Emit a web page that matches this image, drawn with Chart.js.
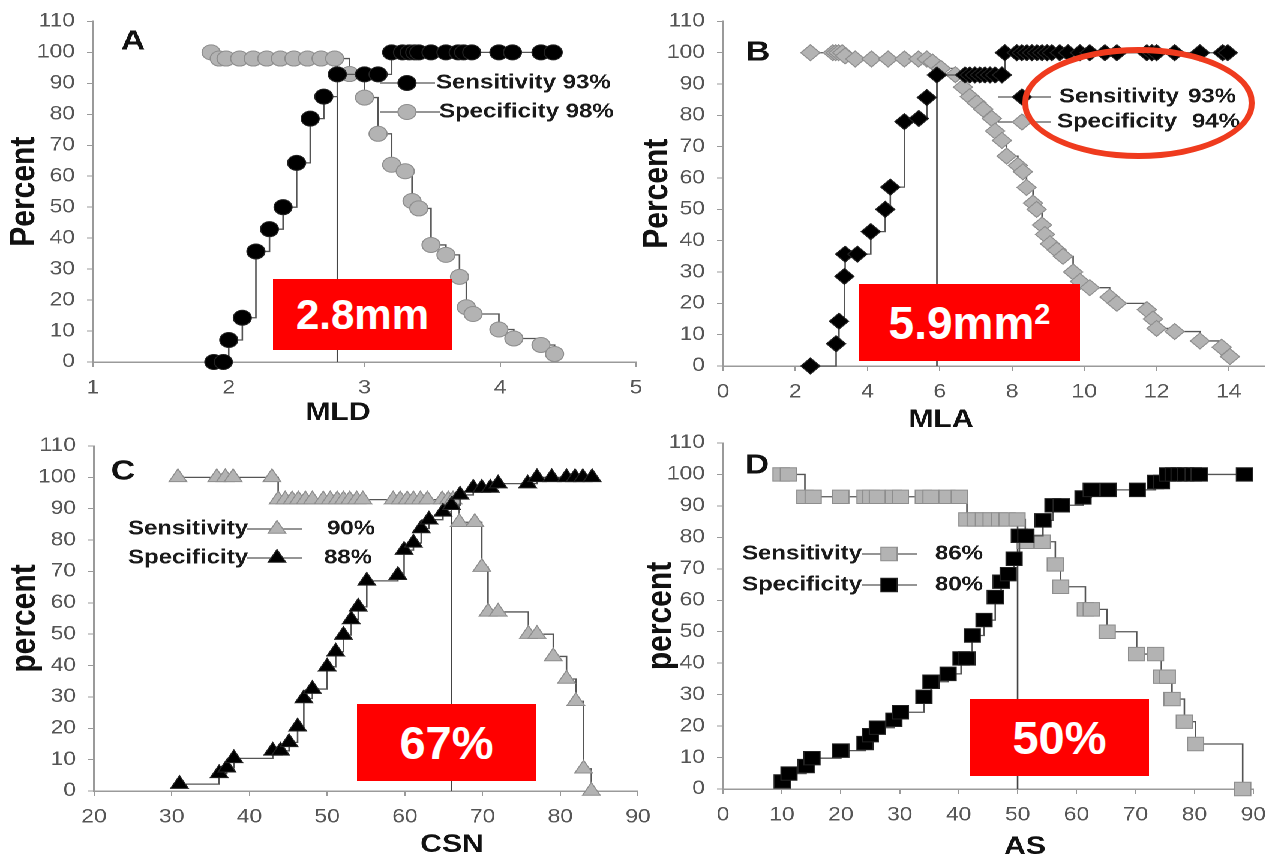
<!DOCTYPE html>
<html>
<head>
<meta charset="utf-8">
<script src="https://cdn.jsdelivr.net/npm/chart.js@4.4.1/dist/chart.umd.min.js"></script>
<style>
  body { margin: 0; background: #fff; width: 1278px; height: 862px; overflow: hidden; position: relative;
         font-family: "Liberation Sans", Arial, sans-serif; }
  /* the source figure is stretched sideways, so the charts are drawn narrower and scaled */
  #stage { position: absolute; left: 0; top: 0; width: 1065px; height: 862px; transform: scaleX(1.2); transform-origin: 0 0; }
  .pane { position: absolute; left: 0; top: 0; width: 1065px; height: 862px; }
  .cut { position: absolute; background: #f00; color: #fff; font-weight: bold;
         display: flex; align-items: center; justify-content: center; }
  #ring { position: absolute; left: 1022px; top: 47px; width: 221px; height: 100px;
          border: 6px solid #ef3b1e; border-radius: 50%; }
</style>
</head>
<body>
<div id="stage">
  <div class="pane"><canvas id="mld"></canvas></div>
  <div class="pane"><canvas id="mla"></canvas></div>
  <div class="pane"><canvas id="csn"></canvas></div>
  <div class="pane"><canvas id="as"></canvas></div>
</div>
<div class="cut" style="left:273px;top:279px;width:179px;height:71px;font-size:42px">2.8mm</div>
<div class="cut" style="left:859px;top:284px;width:221px;height:77px;font-size:46px"><span>5.9mm<span style="font-size:29px;position:relative;top:-15px">2</span></span></div>
<div class="cut" style="left:357px;top:704px;width:179px;height:77px;font-size:47px">67%</div>
<div class="cut" style="left:970px;top:699px;width:179px;height:77px;font-size:47px">50%</div>
<div id="ring"></div>

<script>
const SX = 1.2;
const W0 = 1065, H0 = 862;
const sx = v => v / SX;
const FONT = '"Liberation Sans", Arial, sans-serif';

// A: MLD
const mldSensX = [1.89, 1.96, 2.0, 2.1, 2.2, 2.3, 2.4, 2.5, 2.6, 2.7, 2.8, 3.0, 3.1, 3.2, 3.28, 3.33, 3.37, 3.4, 3.49, 3.6, 3.69, 3.73, 3.79, 3.99, 4.09, 4.3, 4.39];
const mldSensY = [0, 0, 7.1, 14.3, 35.7, 42.9, 50, 64.3, 78.6, 85.7, 92.9, 92.9, 92.9, 100, 100, 100, 100, 100, 100, 100, 100, 100, 100, 100, 100, 100, 100];
const mldSpecX = [1.87, 1.93, 1.98, 2.08, 2.18, 2.28, 2.38, 2.48, 2.58, 2.68, 2.78, 2.89, 3.0, 3.1, 3.2, 3.3, 3.35, 3.4, 3.49, 3.6, 3.7, 3.75, 3.8, 3.99, 4.1, 4.3, 4.4];
const mldSpecY = [100, 98, 98, 98, 98, 98, 98, 98, 98, 98, 98, 93, 85.4, 73.7, 63.7, 61.6, 52, 49.6, 37.8, 34.6, 27.5, 17.7, 15.5, 10.5, 7.6, 5.5, 2.6];
const mldCut = [2.8, 98];

// B: MLA
const mlaSensX = [2.42, 3.13, 3.21, 3.36, 3.38, 3.72, 4.09, 4.49, 4.63, 5.02, 5.42, 5.64, 5.92,
  6.7, 6.83, 6.97, 7.11, 7.25, 7.39, 7.53, 7.72,
  7.8, 8.13, 8.27, 8.41, 8.55, 8.69, 8.83, 8.97, 9.1, 9.32, 9.55, 9.88, 10.15, 10.57, 10.9, 11.73, 11.87, 12.0, 12.5, 13.2, 13.83, 13.97];
const mlaSensY = [0, 7.1, 14.3, 28.6, 35.7, 35.7, 42.9, 50, 57.1, 78, 79, 85.7, 92.9,
  92.9, 92.9, 92.9, 92.9, 92.9, 92.9, 92.9, 92.9,
  100, 100, 100, 100, 100, 100, 100, 100, 100, 100, 100, 100, 100, 100, 100, 100, 100, 100, 100, 100, 100, 100];
const mlaSpecX = [2.42, 3.04, 3.12, 3.2, 3.3, 3.38, 3.66, 4.11, 4.57, 5.02, 5.41, 5.64, 5.8, 6.03, 6.43, 6.64, 6.83, 7.02, 7.2, 7.44,
  7.53, 7.72, 7.85, 8.16, 8.3, 8.4, 8.58, 8.68, 8.83, 8.91, 9.05, 9.24, 9.41, 9.69, 9.88, 10.15, 10.7, 10.9, 11.73, 11.9, 12.0, 12.5, 13.2, 13.8, 14.03];
const mlaSpecY = [100, 100, 100, 100, 100, 99, 98, 98, 98, 98, 98, 98, 97, 95, 93, 89, 86, 84, 82, 79,
  75, 72, 67, 64, 62, 57, 52, 50, 45, 42, 39, 37, 35, 30, 27, 25, 22, 20, 18, 15, 12, 11, 8, 6, 3];
const mlaCut = [5.92, 93];

// C: CSN
const csnSensX = [30.8, 35.8, 36.9, 37.9, 42.9, 43.7, 44.6, 45.5, 46.3, 47.2, 48.1, 49.5, 50.4, 51.3, 52.1, 52.9, 53.8, 54.6,
  58.5, 59.4, 60.3, 61.1, 62.0, 62.9, 64.8, 65.6, 66.2, 67.0, 69.0, 69.9, 70.7, 72.0, 75.9, 77.0, 79.1, 80.8, 82.0, 83.0, 84.0];
const csnSensY = [100, 100, 100, 100, 100, 92.9, 92.9, 92.9, 92.9, 92.9, 92.9, 92.9, 92.9, 92.9, 92.9, 92.9, 92.9, 92.9,
  92.9, 92.9, 92.9, 92.9, 92.9, 92.9, 92.9, 92.9, 92.9, 85.7, 85.7, 71.4, 57.1, 57.1, 50, 50, 42.9, 35.7, 28.6, 7.1, 0];
const csnSpecX = [31.0, 36.1, 37.1, 38.0, 43.0, 44.0, 45.1, 46.2, 47.0, 48.1, 50.0, 51.1, 52.1, 53.1, 54.0, 55.1, 59.1, 59.9,
  61.1, 62.1, 63.1, 64.9, 66.0, 67.1, 68.8, 69.9, 71.0, 72.0, 75.8, 77.0, 78.9, 80.8, 81.9, 82.9, 84.1];
const csnSpecY = [2.2, 5.6, 7.4, 10.4, 12.8, 12.8, 15.5, 20.5, 29.5, 32.5, 39.6, 44.4, 49.7, 54.7, 58.7, 67, 68.8, 76.8,
  79.1, 83.7, 86.5, 89, 91.1, 94.4, 96.6, 96.6, 96.6, 98, 98, 100, 100, 100, 100, 100, 100];
const csnCut = [66, 90];

// D: AS
const asSensX = [9.85, 11.1, 13.9, 15.3, 20.0, 24.1, 25.1, 26.2, 28.9, 30.1, 34.0, 35.3, 38.0, 40.1,
  41.4, 42.8, 44.2, 45.5, 46.9, 48.2, 49.9, 51.3, 54.2, 56.4, 57.3, 61.5, 62.5, 65.2, 70.2, 73.4, 74.4, 75.4, 76.2, 78.3, 80.2, 88.2];
const asSensY = [100, 100, 92.9, 92.9, 92.9, 92.9, 92.9, 92.9, 92.9, 92.9, 92.9, 92.9, 92.9, 92.9,
  85.7, 85.7, 85.7, 85.7, 85.7, 85.7, 85.7, 78.6, 78.6, 71.4, 64.3, 57.1, 57.1, 50, 42.9, 42.9, 35.7, 35.7, 28.6, 21.4, 14.3, 0];
const asSpecX = [10.05, 11.2, 14.1, 15.1, 20.0, 24.1, 25.0, 26.2, 29.0, 30.1, 34.1, 35.3, 38.2, 40.4, 41.4, 42.3, 44.3, 46.2, 47.2, 48.4,
  49.4, 50.3, 51.4, 54.3, 56.0, 57.4, 61.1, 62.5, 65.4, 70.3, 73.4, 74.4, 75.4, 76.4, 77.4, 78.5, 79.8, 80.8, 88.5];
const asSpecY = [2.4, 4.9, 7.3, 9.8, 12.2, 14.6, 17.1, 19.5, 22, 24.4, 29.3, 34.1, 36.6, 41.5, 41.5, 48.8, 53.7, 61, 65.9, 68.3,
  73.2, 80.5, 80.5, 85.4, 90.2, 90.2, 92.7, 95.1, 95.1, 95.1, 97.6, 97.6, 100, 100, 100, 100, 100, 100, 100];
const asCut = [50, 85.5];

const yTicks = { min: 0, max: 110, step: 10 };

const BLACK = { fill: '#000', stroke: '#222' };
const GRAY = { fill: '#b3b3b3', stroke: '#8e8e8e' };

// letters, axis titles and legends drawn on the canvas (stage coordinates)
const panelText = {
  id: 'panelText',
  afterDraw(chart, args, o) {
    const ctx = chart.ctx;
    ctx.save();
    ctx.textBaseline = 'middle';
    ctx.fillStyle = '#111';
    ctx.textAlign = 'center';
    ctx.font = 'bold 28px ' + FONT;
    ctx.fillText(o.letter[0], o.letter[1], o.letter[2]);
    ctx.font = 'bold 25px ' + FONT;
    ctx.fillText(o.xTitle[0], o.xTitle[1], o.xTitle[2]);
    o.rows.forEach(r => {
      const ds = chart.data.datasets[r.ds];
      ctx.strokeStyle = '#555';
      ctx.lineWidth = 1.3;
      ctx.beginPath();
      ctx.moveTo(r.x1, r.y);
      ctx.lineTo(r.x2, r.y);
      ctx.stroke();
      ctx.fillStyle = ds.pointBackgroundColor;
      ctx.strokeStyle = ds.pointBorderColor;
      ctx.lineWidth = 1;
      Chart.helpers.drawPoint(ctx, { pointStyle: ds.pointStyle, radius: ds.pointRadius, rotation: 0, borderWidth: 1 }, r.mx, r.y);
      ctx.fillStyle = '#1a1a1a';
      ctx.font = 'bold 20px ' + FONT;
      ctx.textAlign = 'left';
      ctx.fillText(r.label, r.tx, r.y);
      if (r.value) {
        ctx.textAlign = r.valAlign || 'left';
        ctx.fillText(r.value, r.vx, r.y);
      }
    });
    ctx.restore();
  }
};

function series(xs, ys, style, radius, col) {
  return {
    data: xs.map((x, i) => ({ x: x, y: ys[i] })),
    stepped: true,
    borderColor: '#555',
    borderWidth: 1.3,
    pointStyle: style,
    pointRadius: radius,
    pointBackgroundColor: col.fill,
    pointBorderColor: col.stroke,
    pointBorderWidth: 1,
    clip: false
  };
}

function cutLine(c) {
  return {
    data: [{ x: c[0], y: 0 }, { x: c[0], y: c[1] }],
    borderColor: '#444',
    borderWidth: 1.3,
    pointRadius: 0
  };
}

function panel(id, p) {
  const left = sx(p.area[0]), right = sx(p.area[1]), top = p.area[2], bottom = p.area[3];
  const padL = sx(p.yTitleX) - 20;
  const axisH = 40;
  new Chart(document.getElementById(id), {
    type: 'line',
    data: {
      datasets: [
        series(p.blackX, p.blackY, p.style, p.radius, BLACK),
        series(p.grayX, p.grayY, p.style, p.radius, GRAY),
        cutLine(p.cut)
      ]
    },
    plugins: [panelText],
    options: {
      responsive: true,
      maintainAspectRatio: false,
      devicePixelRatio: 2,
      animation: false,
      events: [],
      layout: { padding: { left: padL, right: W0 - right, top: top, bottom: H0 - bottom - axisH } },
      plugins: {
        legend: { display: false },
        tooltip: { enabled: false },
        panelText: p.text
      },
      scales: {
        x: {
          type: 'linear',
          min: p.xMin, max: p.xMax,
          ticks: { stepSize: p.xStep, includeBounds: false, autoSkip: false, maxRotation: 0,
                   color: '#555', padding: 10, font: { size: 19, family: FONT } },
          grid: { drawOnChartArea: false, tickLength: 5, color: '#9a9a9a' },
          border: { color: '#9a9a9a', width: 1.5 },
          afterFit: s => { s.height = axisH; }
        },
        y: {
          min: yTicks.min, max: yTicks.max,
          ticks: { stepSize: yTicks.step, color: '#555', padding: 10, font: { size: 19, family: FONT } },
          grid: { drawOnChartArea: false, tickLength: 5, color: '#9a9a9a' },
          border: { color: '#9a9a9a', width: 1.5 },
          title: { display: true, text: p.yTitle, color: '#111', padding: { top: 5, bottom: 0 },
                   font: { size: 30, weight: 'bold', family: FONT, lineHeight: 1 } },
          afterFit: s => { s.width = left - padL; }
        }
      }
    }
  });
}

function legendRows(rows) {
  return rows.map(r => ({
    ds: r[0], y: r[1], x1: sx(r[2]), x2: sx(r[3]), mx: sx(r[4]),
    label: r[5], tx: sx(r[6]), value: r[7], vx: r[8] ? sx(r[8]) : 0, valAlign: r[9]
  }));
}

panel('mld', {
  area: [93, 636, 18, 362], yTitleX: 24.5, yTitle: 'Percent',
  xMin: 1, xMax: 5, xStep: 1,
  blackX: mldSensX, blackY: mldSensY, grayX: mldSpecX, grayY: mldSpecY, cut: mldCut,
  style: 'circle', radius: 7.5,
  text: {
    letter: ['A', sx(133), 42], xTitle: ['MLD', sx(338), 413],
    rows: legendRows([
      [0, 83, 380, 435, 407, 'Sensitivity 93%', 436],
      [1, 112, 380, 440, 407, 'Specificity 98%', 439]
    ])
  }
});

panel('mla', {
  area: [723, 1265, 18, 366], yTitleX: 657, yTitle: 'Percent',
  xMin: 0, xMax: 15, xStep: 2,
  blackX: mlaSensX, blackY: mlaSensY, grayX: mlaSpecX, grayY: mlaSpecY, cut: mlaCut,
  style: 'rectRot', radius: 8,
  text: {
    letter: ['B', sx(758), 53], xTitle: ['MLA', sx(941), 420],
    rows: legendRows([
      [0, 97, 998, 1051, 1022, 'Sensitivity', 1059, '93%', 1236, 'right'],
      [1, 122, 998, 1051, 1022, 'Specificity', 1057, '94%', 1240, 'right']
    ])
  }
});

panel('csn', {
  area: [94, 638, 446, 791], yTitleX: 25, yTitle: 'percent',
  xMin: 20, xMax: 90, xStep: 10,
  blackX: csnSpecX, blackY: csnSpecY, grayX: csnSensX, grayY: csnSensY, cut: csnCut,
  style: 'triangle', radius: 8.5,
  text: {
    letter: ['C', sx(123), 472], xTitle: ['CSN', sx(452), 845],
    rows: legendRows([
      [1, 529, 247, 302, 277, 'Sensitivity', 128, '90%', 327],
      [0, 558, 247, 302, 277, 'Specificity', 128, '88%', 324]
    ])
  }
});

panel('as', {
  area: [723, 1262, 443, 789], yTitleX: 661, yTitle: 'percent',
  xMin: 0, xMax: 90, xStep: 10,
  blackX: asSpecX, blackY: asSpecY, grayX: asSensX, grayY: asSensY, cut: asCut,
  style: 'rect', radius: 9.5,
  text: {
    letter: ['D', sx(757), 466], xTitle: ['AS', sx(1025), 847],
    rows: legendRows([
      [1, 554, 862, 917, 889, 'Sensitivity', 742, '86%', 935],
      [0, 585, 862, 917, 889, 'Specificity', 742, '80%', 935]
    ])
  }
});
</script>
</body>
</html>
